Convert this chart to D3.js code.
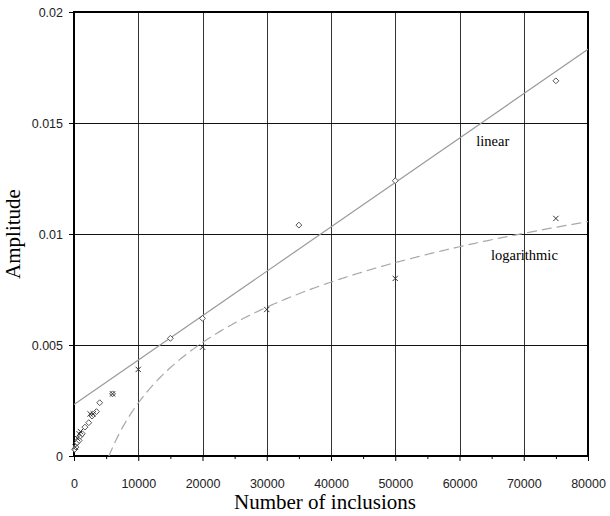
<!DOCTYPE html>
<html>
<head>
<meta charset="utf-8">
<script src="https://cdn.jsdelivr.net/npm/d3@7"></script>
<style>
  body { margin: 0; background: #fff; }
  .tick text { font-family: "Liberation Sans", Arial, sans-serif; font-size: 12.5px; fill: #222; }
</style>
</head>
<body>
<svg id="chart" width="610" height="516"></svg>
<script>
// x values (number of inclusions) and amplitudes
const linearX = [100, 300, 500, 800, 1000, 1300, 1700, 2300, 2800, 3500, 4000, 6000, 15000, 20000, 35000, 50000, 75000];
const linearY = [0.0003, 0.0004, 0.0006, 0.0007, 0.0009, 0.001, 0.0013, 0.0015, 0.0018, 0.002, 0.0024, 0.0028, 0.0053, 0.0062, 0.0104, 0.0124, 0.0169];

const logX = [200, 500, 800, 1000, 2500, 3000, 6000, 10000, 20000, 30000, 50000, 75000];
const logY = [0.0004, 0.0008, 0.001, 0.0011, 0.0019, 0.0019, 0.0028, 0.0039, 0.0049, 0.0066, 0.008, 0.0107];

// trend lines: y = slope*x + intercept  and  y = a*ln(x) + b
const linearFit = {slope: 2.0e-7, intercept: 0.00232};
const logFit = {a: 0.003928, b: -0.03379};

const xTicks = [0, 10000, 20000, 30000, 40000, 50000, 60000, 70000, 80000];
const xMinorTicks = [5000, 15000, 25000, 35000, 45000, 55000, 65000, 75000];
const yTicks = [0, 0.005, 0.01, 0.015, 0.02];
const yTickLabels = ["0", "0.005", "0.01", "0.015", "0.02"];

var margin = {top: 12, right: 22, bottom: 60, left: 74},
    width = 610 - margin.left - margin.right,
    height = 516 - margin.top - margin.bottom;

var svg = d3.select("#chart")
    .append("g")
    .attr("transform", "translate(" + margin.left + "," + margin.top + ")");

var x = d3.scaleLinear().domain([0, 80000]).range([0, width]);
var y = d3.scaleLinear().domain([0, 0.02]).range([height, 0]);

svg.append("defs").append("clipPath").attr("id", "plot-clip")
    .append("rect").attr("width", width).attr("height", height);

// grid
svg.append("g")
    .selectAll("line.vgrid")
    .data(xTicks.slice(1, -1))
    .enter().append("line")
    .attr("x1", d => Math.round(x(d)) + 0.5).attr("x2", d => Math.round(x(d)) + 0.5)
    .attr("y1", 0).attr("y2", height)
    .attr("stroke", "#333").attr("stroke-width", 1);

svg.append("g")
    .selectAll("line.hgrid")
    .data(yTicks.slice(1, -1))
    .enter().append("line")
    .attr("y1", d => Math.round(y(d)) + 0.5).attr("y2", d => Math.round(y(d)) + 0.5)
    .attr("x1", 0).attr("x2", width)
    .attr("stroke", "#111").attr("stroke-width", 1);

// axes
var xAxis = svg.append("g")
    .attr("transform", "translate(0," + height + ")")
    .call(d3.axisBottom(x).tickValues(xTicks).tickFormat(d3.format("d")).tickSize(5).tickPadding(18));
xAxis.select(".domain").remove();

svg.append("g")
    .attr("transform", "translate(0," + height + ")")
    .call(d3.axisBottom(x).tickValues(xMinorTicks).tickFormat("").tickSize(3))
    .select(".domain").remove();

var yAxis = svg.append("g")
    .call(d3.axisLeft(y).tickValues(yTicks).tickFormat((d, i) => yTickLabels[i]).tickSize(5).tickPadding(6));
yAxis.select(".domain").remove();

// frame
svg.append("rect")
    .attr("x", 0).attr("y", 0).attr("width", width).attr("height", height)
    .attr("fill", "none").attr("stroke", "#000").attr("stroke-width", 2);

// trend lines
var plot = svg.append("g").attr("clip-path", "url(#plot-clip)");

var linePath = d3.line().x(d => x(d[0])).y(d => y(d[1]));

plot.append("path")
    .datum(x.domain().map(v => [v, linearFit.slope * v + linearFit.intercept]))
    .attr("d", linePath)
    .attr("fill", "none").attr("stroke", "#9a9a9a").attr("stroke-width", 1.2);

var logPoints = d3.range(5400, 80001, 200).map(v => [v, logFit.a * Math.log(v) + logFit.b]);
plot.append("path")
    .datum(logPoints)
    .attr("d", linePath)
    .attr("fill", "none").attr("stroke", "#a8a8a8").attr("stroke-width", 1.2)
    .attr("stroke-dasharray", "10,5");

// markers
svg.append("g")
    .selectAll("path")
    .data(linearX.map((v, i) => [v, linearY[i]]))
    .enter().append("path")
    .attr("d", d3.symbol().type(d3.symbolDiamond2).size(22))
    .attr("transform", d => "translate(" + x(d[0]) + "," + y(d[1]) + ")")
    .attr("fill", "#fff").attr("stroke", "#555").attr("stroke-width", 1);

svg.append("g")
    .selectAll("path")
    .data(logX.map((v, i) => [v, logY[i]]))
    .enter().append("path")
    .attr("d", d3.symbol().type(d3.symbolTimes).size(20))
    .attr("transform", d => "translate(" + x(d[0]) + "," + y(d[1]) + ")")
    .attr("fill", "none").attr("stroke", "#333").attr("stroke-width", 1);

// labels
svg.append("text")
    .attr("x", x(62600)).attr("y", y(0.01396))
    .attr("font-family", "Liberation Serif, Times New Roman, serif")
    .attr("font-size", 14.5)
    .text("linear");

svg.append("text")
    .attr("x", x(64900)).attr("y", y(0.00883))
    .attr("font-family", "Liberation Serif, Times New Roman, serif")
    .attr("font-size", 14.5)
    .text("logarithmic");

svg.append("text")
    .attr("x", width / 2 - 6).attr("y", height + 53)
    .attr("text-anchor", "middle")
    .attr("font-family", "Liberation Serif, Times New Roman, serif")
    .attr("font-size", 21)
    .text("Number of inclusions");

svg.append("text")
    .attr("transform", "translate(" + (-54) + "," + (height / 2) + ") rotate(-90)")
    .attr("text-anchor", "middle")
    .attr("font-family", "Liberation Serif, Times New Roman, serif")
    .attr("font-size", 21)
    .text("Amplitude");
</script>
</body>
</html>
